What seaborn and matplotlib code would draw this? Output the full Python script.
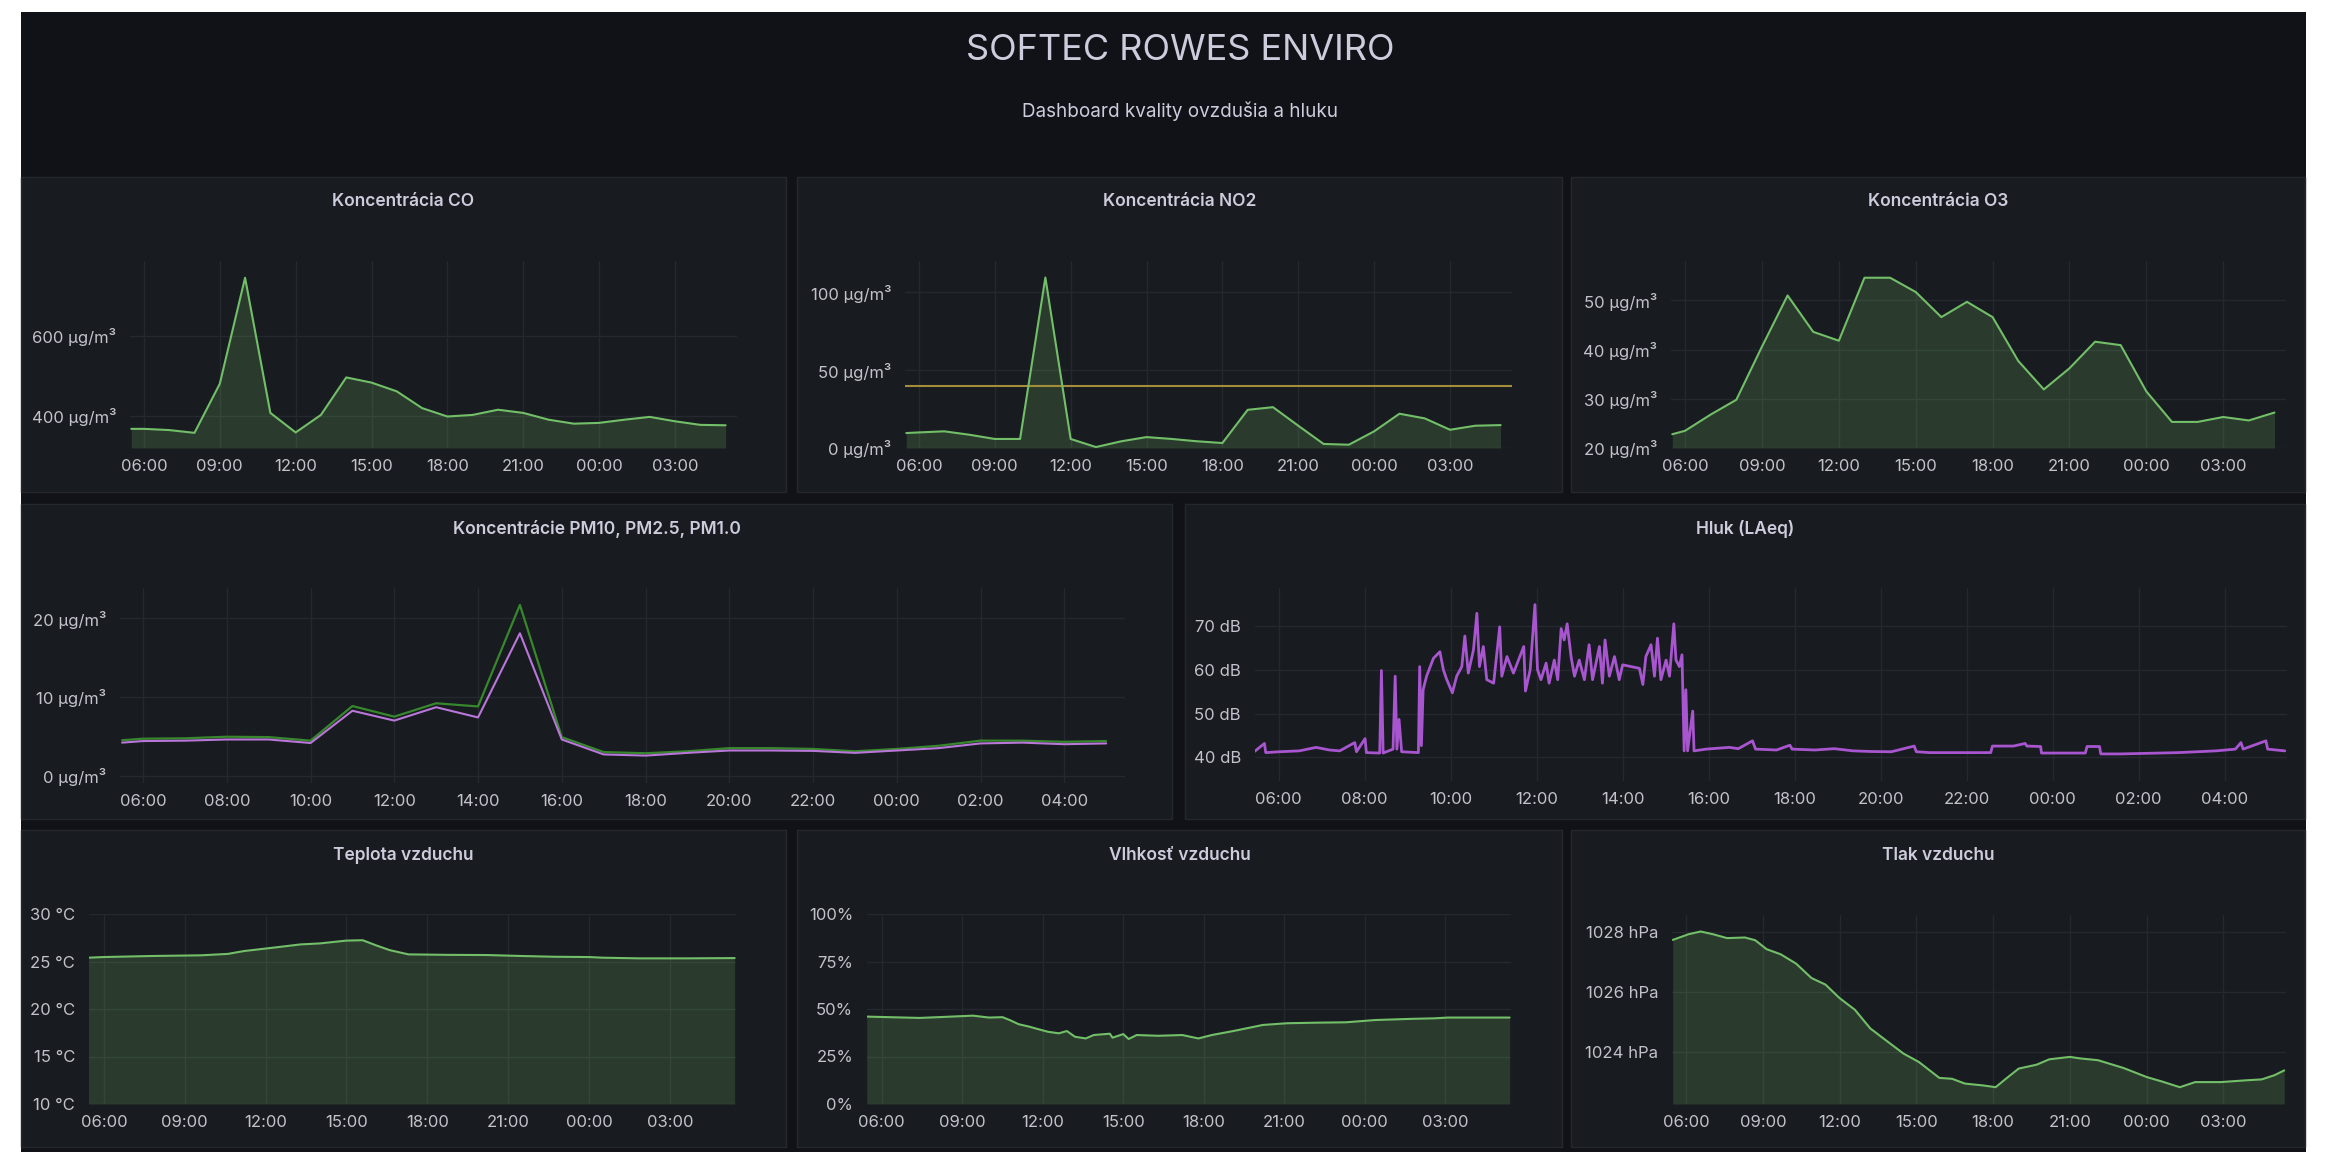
import matplotlib.pyplot as plt
from matplotlib.patches import Rectangle
import seaborn as sns

sns.set_theme(style="dark")
plt.rcParams.update({"font.family": ["Inter", "DejaVu Sans"],
                     "axes.unicode_minus": False})

W, H = 2330, 1152

# colours (grafana dark theme)
PAGE_BG = "#111217"
PANEL_BG = "#181b1f"
PANEL_EDGE = "#24272d"
TEXT = "#ccccdc"
TICK = "#c2c2cc"
GRID = "#25282e"
GREEN = "#73bf69"
DARK_GREEN = "#37872d"
PURPLE = "#b877d9"
NOISE_PURPLE = "#a855d0"
THRESH = "#a38d3b"

# ---- data: time in hours from midnight of the first day (29 = 05:00 next day)
hourly_t = [5.5, 6, 7, 8, 9, 10, 11, 12, 13, 14, 15, 16, 17, 18, 19, 20,
            21, 22, 23, 24, 25, 26, 27, 28, 29]
co = [367, 367, 364, 357, 480, 746, 407, 358, 402, 496, 483, 461, 419, 398,
      402, 415, 407, 390, 380, 382, 390, 397, 386, 377, 376]
no2 = [9.6, 10, 10.7, 8.5, 5.8, 5.8, 109.4, 5.8, 0.6, 4.3, 7, 5.8, 4.3, 3.2,
       24.5, 26.2, 14.3, 2.6, 2.1, 10.7, 22, 19, 11.7, 14.3, 14.7]
no2_limit = 40
o3 = [22.8, 23.5, 26.8, 29.8, 40.6, 51, 43.6, 41.8, 54.6, 54.6, 51.7, 46.6,
      49.7, 46.6, 37.7, 31.9, 36.2, 41.6, 40.9, 31.5, 25.3, 25.3, 26.3, 25.6, 27.2]
pm10 = [4.5, 4.7, 4.75, 4.95, 4.9, 4.45, 8.85, 7.5, 9.2, 8.8, 21.7, 4.9, 3.0,
        2.85, 3.1, 3.5, 3.5, 3.4, 3.1, 3.4, 3.8, 4.45, 4.45, 4.3, 4.4]
pm25 = [4.2, 4.4, 4.45, 4.6, 4.6, 4.15, 8.25, 7.0, 8.7, 7.4, 18.1, 4.6, 2.7,
        2.55, 2.9, 3.2, 3.2, 3.15, 2.9, 3.2, 3.5, 4.1, 4.2, 4.0, 4.1]

noise_t = [5.43, 5.67, 5.70, 6.02, 6.48, 6.87, 7.18, 7.42, 7.77, 7.81, 8.01, 8.04,
           8.35, 8.39, 8.43, 8.66, 8.71, 8.75, 8.80, 8.86, 9.25, 9.28, 9.32, 9.36,
           9.44, 9.60, 9.75, 9.83, 9.91, 10.04, 10.14, 10.26, 10.33, 10.41, 10.53,
           10.61, 10.67, 10.76, 10.84, 11.0, 11.14, 11.19, 11.31, 11.46, 11.70,
           11.74, 11.85, 11.96, 12.02, 12.10, 12.22, 12.29, 12.41, 12.49, 12.57,
           12.64, 12.71, 12.80, 12.88, 12.99, 13.11, 13.22, 13.30, 13.46, 13.53,
           13.59, 13.69, 13.81, 13.92, 14.0, 14.39, 14.47, 14.54, 14.66, 14.74,
           14.81, 14.89, 15.01, 15.09, 15.19, 15.24, 15.32, 15.38, 15.41, 15.43,
           15.47, 15.51, 15.63, 15.66, 15.94, 16.48, 16.69, 17.02, 17.09, 17.58,
           17.89, 17.94, 18.47, 18.92, 19.36, 19.80, 20.25, 20.78, 20.83, 21.14,
           22.03, 22.56, 22.60, 23.09, 23.36, 23.40, 23.72, 23.74, 24.25, 24.76,
           24.80, 25.09, 25.12, 25.58, 26.47, 26.92, 27.36, 27.80, 28.25, 28.38,
           28.43, 28.96, 29.0, 29.40]
noise_db = [41.3, 43.2, 41.1, 41.3, 41.5, 42.3, 41.7, 41.5, 43.4, 41.3, 44.3, 41.1,
            41.0, 59.9, 41.0, 41.9, 58.6, 41.9, 48.7, 41.3, 41.1, 60.8, 42.7, 55.5,
            58.6, 62.7, 64.2, 60.1, 57.8, 54.8, 58.6, 60.8, 67.8, 59.3, 64.6,
            73.0, 60.8, 65.4, 57.8, 57.0, 69.9, 58.6, 63.1, 59.3, 65.4,
            55.2, 60.1, 75.0, 60.1, 57.8, 61.6, 57.0, 62.3, 57.8, 69.5,
            66.9, 70.6, 63.1, 58.6, 62.3, 57.8, 65.8, 57.8, 65.4, 57.0,
            66.9, 58.6, 63.1, 57.8, 61.2, 60.4, 56.7, 63.1, 65.8, 58.6,
            67.3, 57.8, 62.3, 58.6, 70.6, 62.3, 60.8, 63.5, 50.2, 41.5,
            55.5, 41.5, 50.6, 41.5, 41.9, 42.3, 42.0, 43.8, 41.9, 41.7,
            42.8, 41.9, 41.7, 42.0, 41.5, 41.35, 41.3, 42.6, 41.3, 41.1,
            41.1, 41.1, 42.6, 42.6, 43.2, 42.6, 42.5, 41.0, 41.0, 41.0,
            42.5, 42.5, 40.8, 40.8, 41.0, 41.1, 41.3, 41.5, 41.9, 43.4,
            41.9, 43.8, 41.9, 41.5]

temp_t = [5.43, 6.0, 7.8, 9.6, 10.6, 11.2, 12.3, 13.3, 14.0, 15.0, 15.6, 16.1,
          16.6, 17.3, 18.7, 20.2, 21.5, 22.7, 24.0, 24.5, 25.9, 27.6, 29.4]
temp = [25.4, 25.47, 25.58, 25.65, 25.8, 26.1, 26.46, 26.8, 26.9, 27.2, 27.24,
        26.7, 26.2, 25.75, 25.7, 25.68, 25.58, 25.5, 25.47, 25.4, 25.33, 25.33, 25.36]

hum_t = [5.44, 7.4, 8.1, 9.4, 10.0, 10.5, 10.8, 11.1, 11.5, 11.8, 12.2, 12.6,
         12.9, 13.2, 13.6, 13.9, 14.5, 14.6, 15.0, 15.2, 15.5, 16.3, 17.2, 17.8,
         18.3, 19.1, 20.2, 21.1, 22.2, 23.3, 24.4, 25.7, 26.6, 27.1, 29.4]
hum = [46, 45.3, 45.7, 46.5, 45.5, 45.7, 44, 42, 40.7, 39.5, 38, 37.2, 38.4,
       35.4, 34.5, 36.3, 37, 34.9, 36.8, 34.2, 36.3, 35.9, 36.3, 34.5, 36.3,
       38.4, 41.6, 42.5, 42.8, 43, 44.2, 44.8, 45.1, 45.5, 45.5]

pres_t = [5.48, 6.1, 6.57, 7.05, 7.6, 8.3, 8.7, 9.15, 9.7, 10.3, 10.9, 11.45,
          12.0, 12.6, 13.2, 13.8, 14.5, 15.1, 15.9, 16.4, 16.9, 17.6, 18.1, 18.5,
          19.0, 19.7, 20.2, 21.0, 21.4, 22.1, 23.1, 24.0, 24.6, 25.3, 25.9, 26.9,
          27.9, 28.5, 29.0, 29.38]
pres = [1027.73, 1027.92, 1028.01, 1027.92, 1027.79, 1027.81, 1027.72, 1027.42,
        1027.25, 1026.94, 1026.46, 1026.24, 1025.79, 1025.4, 1024.78, 1024.39,
        1023.94, 1023.66, 1023.13, 1023.1, 1022.94, 1022.88, 1022.82, 1023.1,
        1023.44, 1023.57, 1023.75, 1023.83, 1023.78, 1023.72, 1023.46, 1023.16,
        1023.01, 1022.82, 1022.99, 1022.99, 1023.05, 1023.08, 1023.22, 1023.38]

ticks_3h = [6, 9, 12, 15, 18, 21, 24, 27]
ticks_2h = [6, 8, 10, 12, 14, 16, 18, 20, 22, 24, 26, 28]

fig = plt.figure(figsize=(W / 100, H / 100), dpi=100, facecolor="white")


def px_rect(x0, y0, x1, y1, **kw):
    r = Rectangle((x0 / W, 1 - y1 / H), (x1 - x0) / W, (y1 - y0) / H,
                  transform=fig.transFigure, zorder=-10, **kw)
    fig.patches.append(r)


def panel(x0, y0, x1, y1, title):
    px_rect(x0, y0, x1, y1, facecolor=PANEL_BG, edgecolor=PANEL_EDGE, lw=1)
    fig.text((x0 + x1) / 2 / W, 1 - (y0 + 25) / H, title, ha="center", va="center",
             color=TEXT, fontsize=12.5, fontweight="semibold")


def px_axes(x0, y0, x1, y1, ylim, yticks, unit, xticks):
    ax = fig.add_axes([x0 / W, 1 - y1 / H, (x1 - x0) / W, (y1 - y0) / H])
    ax.set_facecolor("none")
    ax.set_xlim(5.45, 29.45)
    ax.set_ylim(*ylim)
    ax.set_xticks(xticks)
    ax.set_xticklabels([f"{int(h) % 24:02d}:00" for h in xticks])
    ax.set_yticks(yticks)
    ax.set_yticklabels([f"{v:g}{unit}" for v in yticks])
    ax.grid(True, color=GRID, lw=1)
    ax.set_axisbelow(True)
    ax.tick_params(axis="both", length=0, colors=TICK, labelsize=12)
    ax.tick_params(axis="x", pad=8)
    ax.tick_params(axis="y", pad=10)
    for s in ax.spines.values():
        s.set_visible(False)
    return ax


def area(ax, t, v, color=GREEN):
    sns.lineplot(x=t, y=v, ax=ax, color=color, lw=1.5)
    ax.fill_between(t, v, ax.get_ylim()[0], color=color, alpha=0.2, lw=0)
    ax.set_xlabel("")
    ax.set_ylabel("")


# dashboard background + header
px_rect(21, 12, 2306, 1152, facecolor=PAGE_BG, edgecolor="none")
fig.text(1180 / W, 1 - 50 / H, "SOFTEC ROWES ENVIRO", ha="center", va="center",
         color=TEXT, fontsize=26)
fig.text(1180 / W, 1 - 111 / H, "Dashboard kvality ovzdušia a hluku", ha="center",
         va="center", color=TEXT, fontsize=13.6)

# row 1
panel(21, 177, 786, 492, "Koncentrácia CO")
ax = px_axes(130, 261, 737, 448, (319, 788), [400, 600], " µg/m³", ticks_3h)
area(ax, hourly_t, co)

panel(797, 177, 1562, 492, "Koncentrácia NO2")
ax = px_axes(905, 261, 1512, 448, (0, 120), [0, 50, 100], " µg/m³", ticks_3h)
ax.axhline(no2_limit, color=THRESH, lw=1.5)
area(ax, hourly_t, no2)

panel(1571, 177, 2305, 492, "Koncentrácia O3")
ax = px_axes(1671, 261, 2286, 448, (20, 58), [20, 30, 40, 50], " µg/m³", ticks_3h)
area(ax, hourly_t, o3)

# row 2
panel(21, 504, 1172, 819, "Koncentrácie PM10, PM2.5, PM1.0")
ax = px_axes(120, 588, 1125, 783, (-0.93, 23.85), [0, 10, 20], " µg/m³", ticks_2h)
sns.lineplot(x=hourly_t, y=pm10, ax=ax, color=DARK_GREEN, lw=1.6)
sns.lineplot(x=hourly_t, y=pm25, ax=ax, color=PURPLE, lw=1.5)
ax.set_xlabel("")
ax.set_ylabel("")

panel(1185, 504, 2305, 819, "Hluk (LAeq)")
ax = px_axes(1255, 588, 2287, 781, (34.6, 78.8), [40, 50, 60, 70], " dB", ticks_2h)
sns.lineplot(x=noise_t, y=noise_db, ax=ax, color=NOISE_PURPLE, lw=2.0)
ax.set_xlabel("")
ax.set_ylabel("")

# row 3
panel(21, 830, 786, 1147, "Teplota vzduchu")
ax = px_axes(89, 914, 736, 1104, (10, 30), [10, 15, 20, 25, 30], " °C", ticks_3h)
area(ax, temp_t, temp)

panel(797, 830, 1562, 1147, "Vlhkosť vzduchu")
ax = px_axes(867, 914, 1511, 1104, (0, 100), [0, 25, 50, 75, 100], "%", ticks_3h)
area(ax, hum_t, hum)

panel(1571, 830, 2305, 1147, "Tlak vzduchu")
ax = px_axes(1672, 915, 2286, 1104, (1022.26, 1028.56), [1024, 1026, 1028], " hPa", ticks_3h)
area(ax, pres_t, pres)

fig.savefig("out.png", dpi=100, facecolor=fig.get_facecolor())
